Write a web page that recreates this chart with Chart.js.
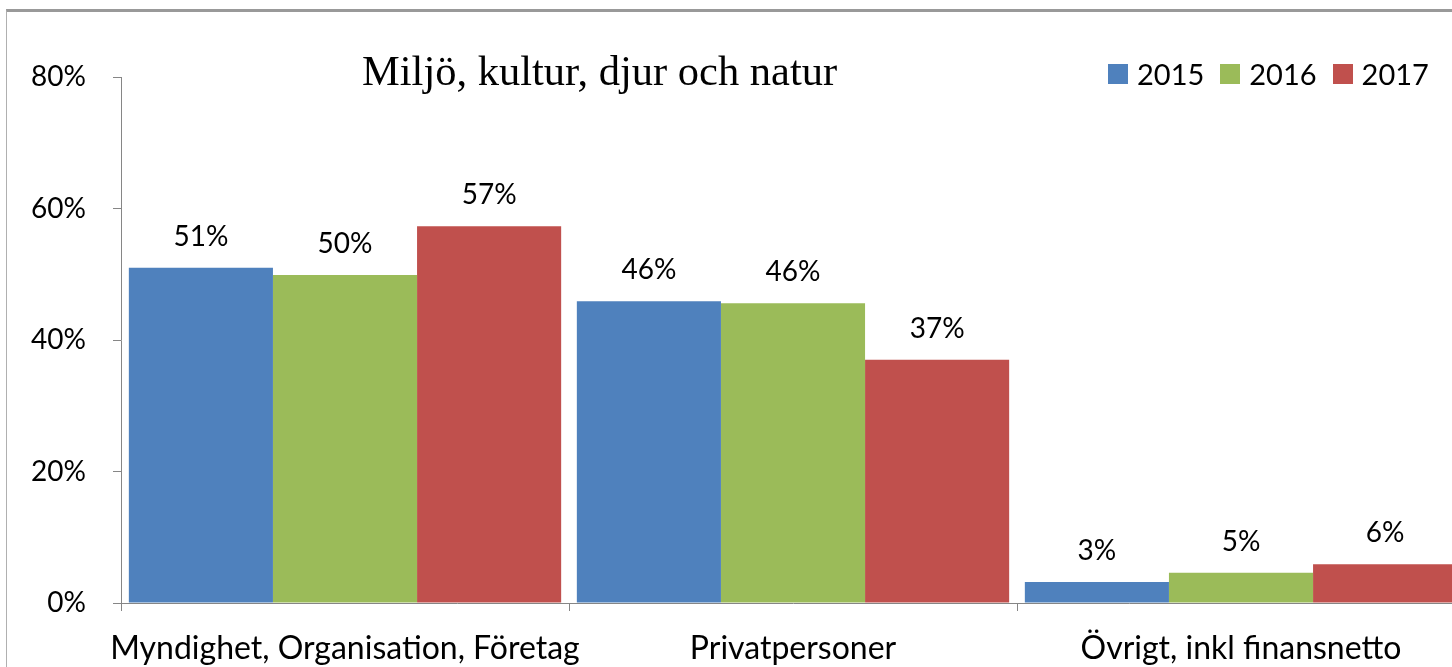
<!DOCTYPE html>
<html lang="sv">
<head>
<meta charset="utf-8">
<script src="https://cdn.jsdelivr.net/npm/chart.js@4.4.1/dist/chart.umd.min.js"></script>
<style>
    html, body { margin: 0; padding: 0; background: #fff; overflow: hidden; }
    #wrap { position: relative; width: 1452px; height: 667px; overflow: hidden; }
    #frame { position: absolute; left: 6px; top: 9px; width: 1500px; height: 700px;
             border-top: 3px solid #999; border-left: 1px solid #b0b0b0; }
    #chart-box { position: absolute; left: 0; top: 0; width: 1470px; height: 667px; }
    #title { position: absolute; top: 46px; left: 362px; font-family: "Liberation Serif", "DejaVu Serif", serif;
             font-size: 42.5px; color: #000; white-space: nowrap; }
    #legend { position: absolute; top: 56px; left: 1108px; display: flex; align-items: center;
              font-family: Lato, "Open Sans", sans-serif; font-size: 29px; color: #000; }
    #legend .item { display: flex; align-items: center; margin-right: 16px; }
    #legend .sw { width: 20px; height: 20px; margin-right: 9px; }
</style>
</head>
<body>
<div id="wrap">
    <div id="frame"></div>
    <div id="chart-box"><canvas id="chart" width="1470" height="667"></canvas></div>
    <div id="title"></div>
    <div id="legend"></div>
</div>
<script>
const chartTitle = 'Miljö, kultur, djur och natur';
const categories = ['Myndighet, Organisation, Företag', 'Privatpersoner', 'Övrigt, inkl finansnetto'];
const years = ['2015', '2016', '2017'];
const values2015 = [51.0, 45.9, 3.2];
const values2016 = [49.9, 45.6, 4.6];
const values2017 = [57.3, 37.0, 5.9];
const colors = ['#4F81BD', '#9BBB59', '#C0504D'];
const yTicks = [0, 20, 40, 60, 80];

const seriesValues = [values2015, values2016, values2017];
const font = 'Lato, "Open Sans", sans-serif';

document.getElementById('title').textContent = chartTitle;
document.getElementById('legend').innerHTML = years.map((y, i) =>
    `<div class="item"><div class="sw" style="background:${colors[i]}"></div>${y}</div>`
).join('');

// value labels above each bar
const barLabels = {
    id: 'barLabels',
    afterDatasetsDraw(chart) {
        const ctx = chart.ctx;
        ctx.save();
        ctx.font = `28px ${font}`;
        ctx.fillStyle = '#000';
        ctx.textAlign = 'center';
        ctx.textBaseline = 'middle';
        chart.data.datasets.forEach((ds, i) => {
            chart.getDatasetMeta(i).data.forEach((bar, j) => {
                ctx.fillText(Math.round(ds.data[j]) + '%', bar.x, bar.y - 31);
            });
        });
        ctx.restore();
    }
};

new Chart(document.getElementById('chart'), {
    type: 'bar',
    data: {
        labels: categories,
        datasets: years.map((y, i) => ({
            label: y,
            data: seriesValues[i],
            backgroundColor: colors[i],
            borderWidth: 0,
            categoryPercentage: 0.965,
            barPercentage: 1.0
        }))
    },
    options: {
        responsive: false,
        animation: false,
        layout: { padding: { top: 77, right: 5, left: 0, bottom: 0 } },
        plugins: {
            legend: { display: false },
            title: { display: false },
            tooltip: { enabled: false }
        },
        scales: {
            x: {
                grid: { offset: true, drawOnChartArea: false, tickLength: 8, color: '#868686' },
                border: { color: '#868686', width: 1 },
                ticks: { color: '#000', font: { family: font, size: 32 }, padding: 18,
                         maxRotation: 0, autoSkip: false },
                afterFit(scale) { scale.height = 64; }
            },
            y: {
                min: 0,
                max: 80,
                afterBuildTicks(scale) { scale.ticks = yTicks.map(v => ({ value: v })); },
                grid: { drawOnChartArea: false, tickLength: 8, color: '#868686' },
                border: { color: '#868686', width: 1 },
                ticks: { color: '#000', font: { family: font, size: 28 }, padding: 27,
                         callback: v => v + '%' },
                afterFit(scale) { scale.width = 121; }
            }
        }
    },
    plugins: [barLabels]
});
</script>
</body>
</html>
